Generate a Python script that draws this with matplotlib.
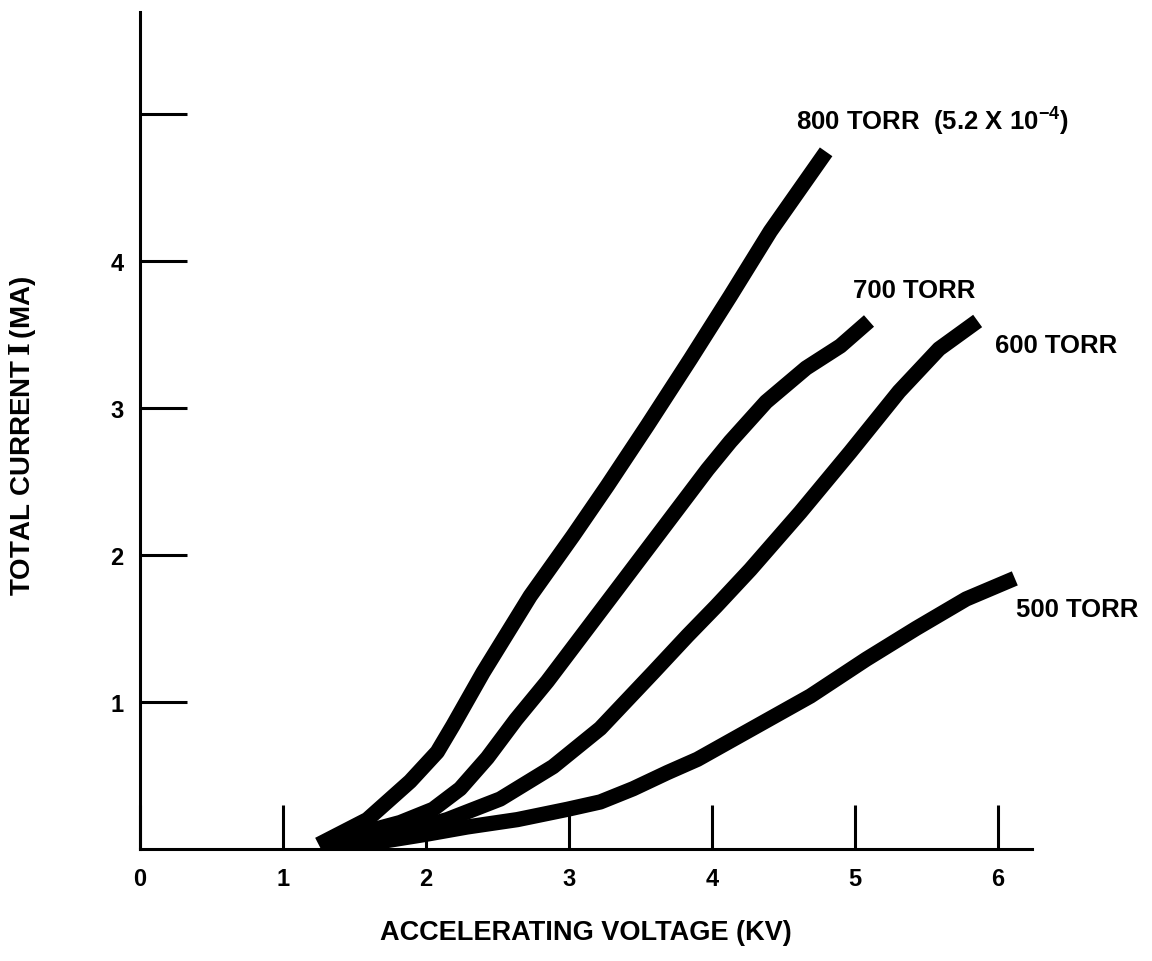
import matplotlib.pyplot as plt

plt.rcParams['font.family'] = ['Liberation Sans', 'DejaVu Sans']
plt.rcParams['mathtext.fontset'] = 'custom'
plt.rcParams['mathtext.rm'] = 'DejaVu Serif:bold'
plt.rcParams['mathtext.bf'] = 'Liberation Sans:bold'

# Curvas: tensão (kV) x corrente total (mA)
v800 = [1.25, 1.59, 1.89, 2.08, 2.19, 2.40, 2.73, 3.03, 3.27, 3.55, 3.85, 4.13, 4.41, 4.80]
i800 = [0.03, 0.20, 0.46, 0.66, 0.84, 1.20, 1.72, 2.13, 2.47, 2.88, 3.33, 3.76, 4.20, 4.74]

v700 = [1.30, 1.59, 1.82, 2.05, 2.24, 2.43, 2.63, 2.85, 3.13, 3.41, 3.69, 3.97, 4.13, 4.38, 4.66, 4.90, 5.10]
i700 = [0.02, 0.12, 0.18, 0.27, 0.41, 0.62, 0.88, 1.14, 1.50, 1.86, 2.22, 2.58, 2.77, 3.04, 3.27, 3.42, 3.59]

v600 = [1.30, 1.60, 1.90, 2.15, 2.52, 2.89, 3.22, 3.59, 3.83, 4.03, 4.27, 4.62, 4.97, 5.31, 5.59, 5.86]
i600 = [0.02, 0.07, 0.13, 0.20, 0.34, 0.56, 0.82, 1.20, 1.45, 1.65, 1.90, 2.29, 2.70, 3.11, 3.40, 3.59]

v500 = [1.30, 1.68, 2.00, 2.29, 2.64, 2.99, 3.22, 3.45, 3.69, 3.90, 4.69, 5.08, 5.43, 5.78, 6.12]
i500 = [0.02, 0.05, 0.10, 0.15, 0.20, 0.27, 0.32, 0.41, 0.52, 0.61, 1.04, 1.29, 1.50, 1.70, 1.84]

rotulos = ['800 TORR  (5.2 X 10$^{\\mathbf{-4}}$)', '700 TORR', '600 TORR', '500 TORR']
pos_rotulos = [(4.59, 4.96), (4.99, 3.80), (5.98, 3.43), (6.13, 1.63)]

xticks = [0, 1, 2, 3, 4, 5, 6]
yticks = [1, 2, 3, 4, 5]
ytick_labels = ['1', '2', '3', '4', '']

fig = plt.figure(figsize=(11.52, 9.62), dpi=100)
ax = fig.add_axes([0.1215, 0.1164, 0.7743, 0.870])

for v, i in [(v800, i800), (v700, i700), (v600, i600), (v500, i500)]:
    ax.plot(v, i, color='black', linewidth=11, solid_capstyle='butt', solid_joinstyle='round')

for txt, (x, y) in zip(rotulos, pos_rotulos):
    ax.text(x, y, txt, fontsize=18.5, fontweight='bold', ha='left', va='center')

ax.set_xlim(0, 6.24)
ax.set_ylim(0, 5.69)
ax.spines['top'].set_visible(False)
ax.spines['right'].set_visible(False)
ax.spines['left'].set_linewidth(2.2)
ax.spines['bottom'].set_linewidth(2.2)

ax.set_xticks(xticks)
ax.set_xticklabels([str(t) for t in xticks], fontweight='bold')
ax.set_yticks(yticks)
ax.set_yticklabels(ytick_labels, fontweight='bold')
ax.tick_params(axis='x', direction='in', length=32, width=2.2, pad=13, labelsize=17)
ax.tick_params(axis='y', direction='in', length=34, width=2.2, pad=12, labelsize=17)

fig.text(586 / 1152, 1 - 933 / 962, 'ACCELERATING VOLTAGE (KV)', fontsize=19.5,
         fontweight='bold', ha='center', va='center')
fig.text(23 / 1152, 1 - 436 / 962, 'TOTAL CURRENT$\\,\\mathrm{I}\\,$(MA)', fontsize=20,
         fontweight='bold', ha='center', va='center', rotation=90)

fig.savefig('out.png', dpi=100)
